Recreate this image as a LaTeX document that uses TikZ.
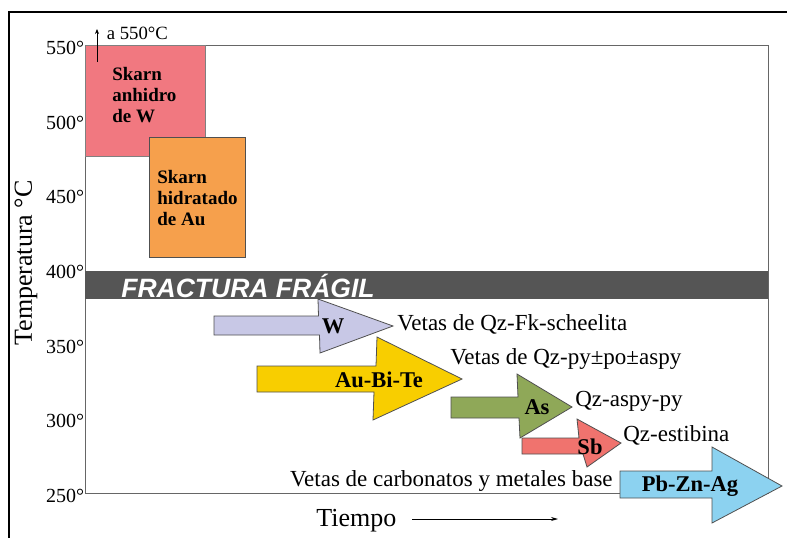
\documentclass[tikz,border=0pt]{standalone}
\usepackage{fontspec}
\setmainfont{Liberation Serif}
\newfontfamily\arialfont{Liberation Sans}
\usetikzlibrary{arrows.meta}

\definecolor{anhidro}{RGB}{241,120,128}
\definecolor{hidratado}{RGB}{246,160,76}
\definecolor{fragil}{RGB}{85,85,85}
\definecolor{colW}{RGB}{200,200,230}
\definecolor{colAu}{RGB}{248,206,0}
\definecolor{colAs}{RGB}{143,168,88}
\definecolor{colSb}{RGB}{240,115,110}
\definecolor{colPb}{RGB}{140,210,240}
\definecolor{borde}{RGB}{80,80,80}

\begin{document}
\begin{tikzpicture}[x=1pt, y=-1pt, line width=0.7pt,
  txt/.style={inner sep=0pt, font=\fontsize{23}{25}\selectfont},
  ticklbl/.style={inner sep=0pt, anchor=east, font=\fontsize{20}{22}\selectfont},
  skarn/.style={inner sep=0pt, anchor=west, align=left, font=\fontsize{19}{21}\selectfont\bfseries},
  metal/.style={inner sep=0pt, font=\fontsize{22.5}{24}\selectfont\bfseries},
  flecha/.style={draw=borde, line width=0.8pt}]
  \useasboundingbox (0,0) rectangle (787,538);
  % marco exterior y ejes
  \draw[line width=2pt] (9,538) -- (9,12) -- (787,12);
  \draw[gray!80!black, line width=1pt] (85,45) rectangle (768,493);
  \foreach \t in {550,500,...,250}
    \node[ticklbl] (t\t) at (84.5,{45+(550-\t)*1.4933+3}) {\t°};
  \node[txt, rotate=90, font=\fontsize{26}{28}\selectfont] (temp) at (26,263) {Temperatura °C};

  % skarns
  \filldraw[fill=anhidro, draw=gray, line width=0.5pt] (85,45) rectangle (205,156);
  \filldraw[fill=hidratado, draw=borde, line width=0.5pt] (149,137) rectangle (245,257);
  \node[skarn] (anh) at (112,95) {Skarn\\anhidro\\de W};
  \node[skarn] (hid) at (157,198) {Skarn\\hidratado\\de Au};
  \coordinate (a0) at (97,62);
  \coordinate (a1) at (97,29);
  \draw[line width=0.8pt, -{Stealth[length=5pt, width=4pt]}] (a0) -- (a1);
  \node[txt, anchor=west, font=\fontsize{18.7}{20}\selectfont] (a550) at (106.5,33) {a 550°C};

  % franja de fractura
  \fill[fragil] (85,271) rectangle (768,299);
  \node[inner sep=0pt, text=white, font=\arialfont\fontsize{26.5}{28}\selectfont\bfseries\itshape] (frac) at (248,286) {FRACTURA FRÁGIL};

  % flechas de vetas
  \filldraw[flecha, fill=colW]
    (214,316) -- (318.5,316) -- (318,299) -- (393,326) -- (320,353) -- (319.5,335) -- (214,335) -- cycle;
  \node[metal] (w) at (333,326) {W};
  \filldraw[flecha, fill=colAu]
    (257,366) -- (376,366) -- (377,337) -- (462,379) -- (373,420) -- (374,392) -- (257,392) -- cycle;
  \node[metal] (au) at (379,380) {Au-Bi-Te};
  \filldraw[flecha, fill=colAs]
    (451,397) -- (518,397) -- (517,374) -- (572,407) -- (520,438) -- (519,418) -- (451,418) -- cycle;
  \node[metal] (as) at (537,407) {As};
  \filldraw[flecha, fill=colSb]
    (522,438) -- (579,438) -- (577,419) -- (621,443) -- (587,467) -- (583,454) -- (522,454) -- cycle;
  \node[metal] (sb) at (590,447) {Sb};
  \filldraw[flecha, fill=colPb]
    (620,471) -- (712,471) -- (712,447) -- (782,486) -- (712,523) -- (712,498) -- (620,498) -- cycle;
  \node[metal] (pb) at (690,486) {Pb-Zn-Ag};

  % textos
  \node[txt, anchor=west] (vw) at (397,324) {Vetas de Qz-Fk-scheelita};
  \node[txt, anchor=west] (vau) at (450,359) {Vetas de Qz-py±po±aspy};
  \node[txt, anchor=west] (vas) at (575,401) {Qz-aspy-py};
  \node[txt, anchor=west] (vsb) at (623,435) {Qz-estibina};
  \node[txt, anchor=east] (vpb) at (613,481) {Vetas de carbonatos y metales base};

  % tiempo
  \node[txt, anchor=west, font=\fontsize{26}{28}\selectfont] (tiempo) at (316,521) {Tiempo};
  \coordinate (t0) at (412,519);
  \coordinate (t1) at (558,519);
  \draw[line width=0.8pt, -{Stealth[length=7pt, width=4pt]}] (t0) -- (t1);
\end{tikzpicture}
\end{document}
